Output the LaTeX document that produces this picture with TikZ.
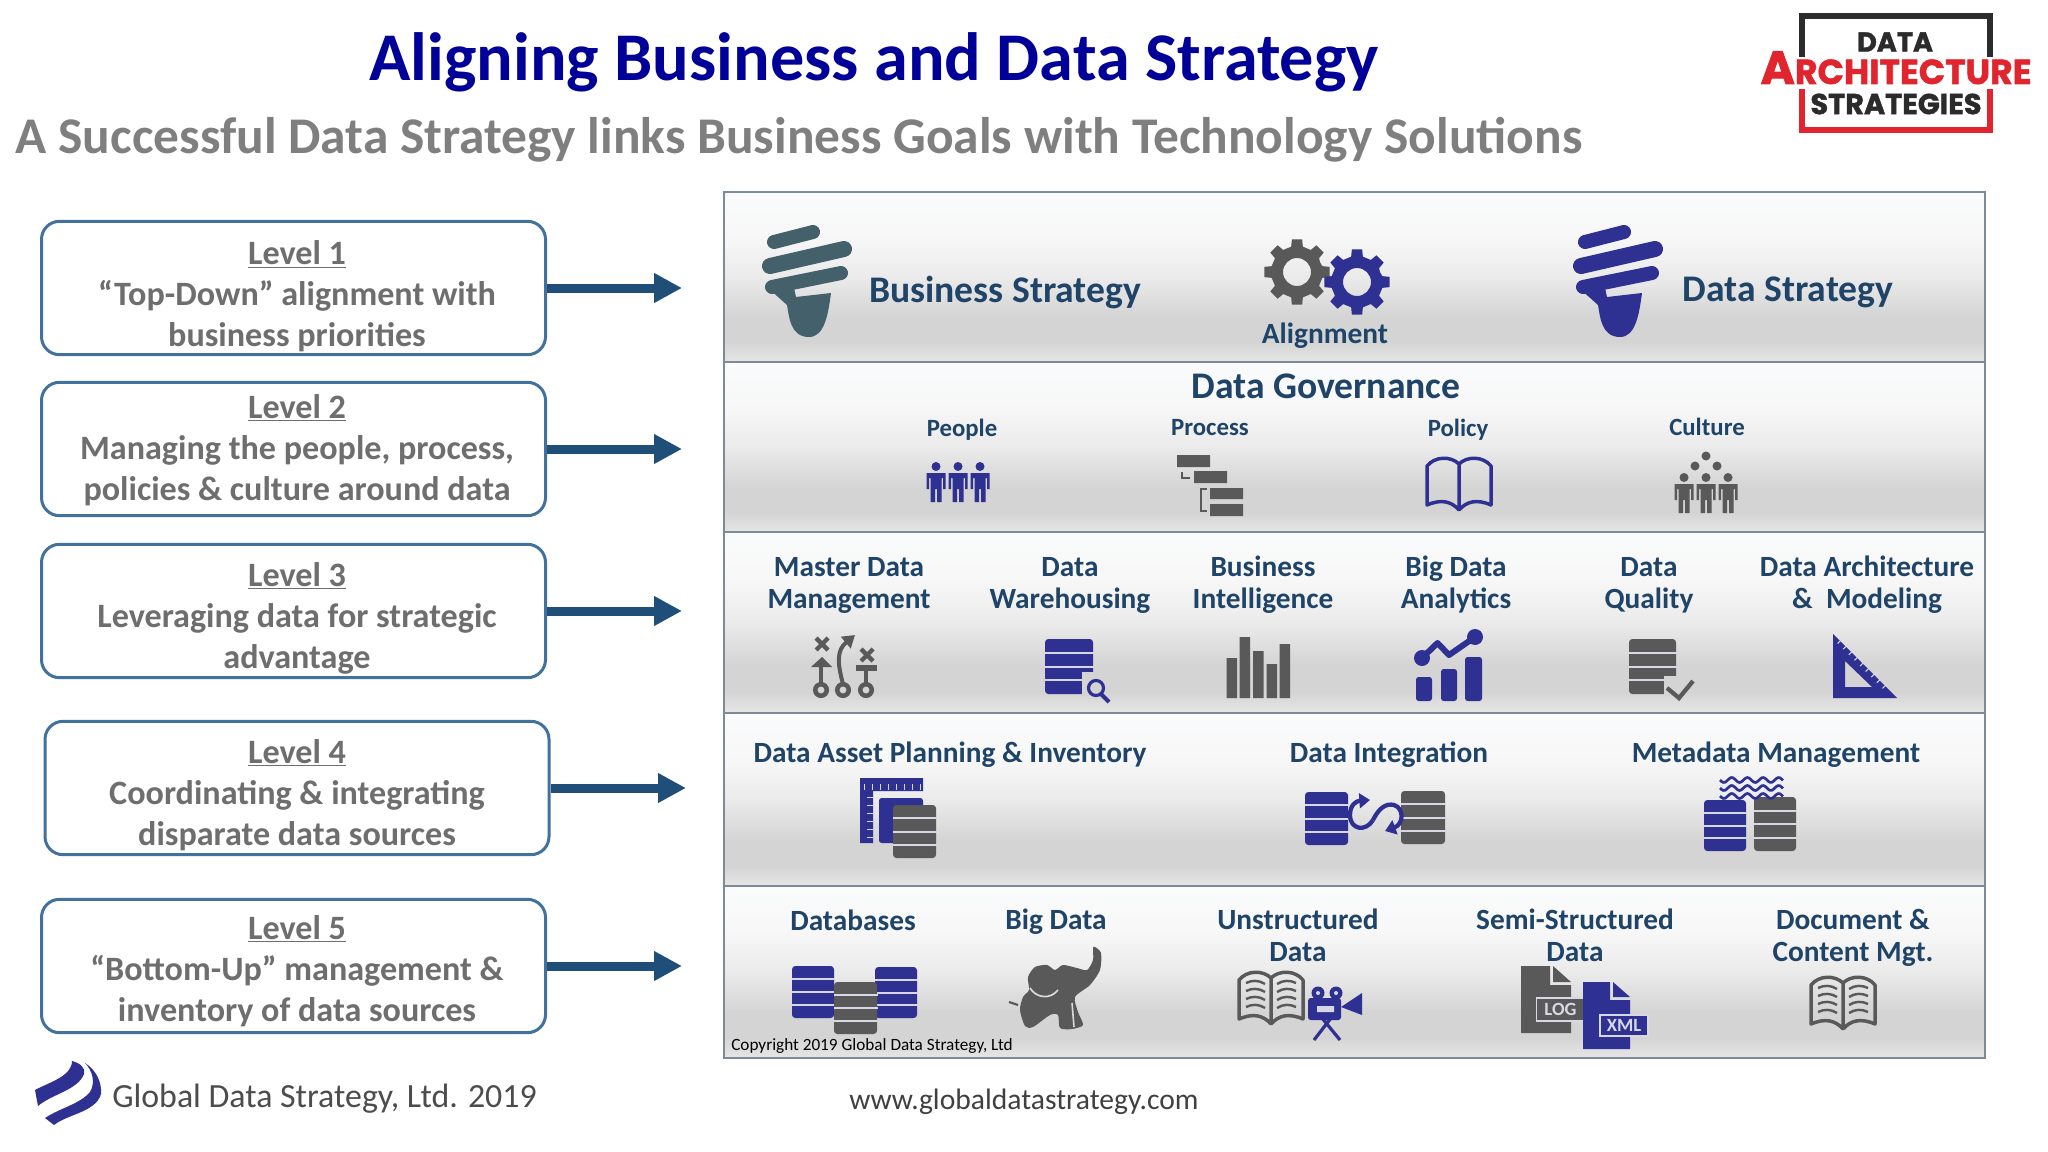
\documentclass[tikz,border=0pt]{standalone}
\usepackage{fontspec}
\setmainfont{Carlito}
\newfontfamily\logofont[BoldFeatures={FakeBold=1.5}]{Poppins}
\usetikzlibrary{arrows.meta}

\definecolor{titleblue}{HTML}{000099}
\definecolor{subgray}{HTML}{7F7F7F}
\definecolor{boxline}{HTML}{41719C}
\definecolor{boxtext}{HTML}{6E6E6E}
\definecolor{arrowblue}{HTML}{1F4E79}
\definecolor{labelblue}{HTML}{1F4468}
\definecolor{bandline}{HTML}{7C8A9A}
\definecolor{iconblue}{HTML}{2E3192}
\definecolor{icongray}{HTML}{595959}
\definecolor{bulbslate}{HTML}{44606B}
\definecolor{gapshade}{HTML}{D8D8E4}
\definecolor{bandbottom}{HTML}{E6E6E6}
\definecolor{bandtop}{HTML}{FAFBFC}
\definecolor{logored}{HTML}{E0252F}
\definecolor{logoblack}{HTML}{2B2B2B}

\pgfdeclareverticalshading{bandshade}{100bp}{color(0bp)=(bandbottom); color(25bp)=(bandbottom); color(31bp)=(black!17); color(38bp)=(black!17); color(50bp)=(black!8); color(62bp)=(black!3); color(75bp)=(bandtop); color(100bp)=(bandtop)}

\tikzset{
  every pic/.style={yscale=-1},
  levelbox/.style={draw=boxline,line width=2.25pt,rounded corners=13.5pt,fill=white,minimum width=378pt,minimum height=100pt,inner sep=0pt},
  leveltext/.style={inner sep=0pt,align=center,text=boxtext,font=\fontsize{25.6}{30.75}\selectfont\bfseries},
  levelarrow/.style={draw=arrowblue,line width=6.75pt,-{Triangle[length=21pt,width=21pt]}},
  bandbox/.style={draw=bandline,line width=1.5pt,shade,shading=bandshade},
  lbl/.style={inner sep=0.75pt,align=center,text=labelblue,font=\fontsize{22}{24}\selectfont\bfseries},
  lblsmall/.style={lbl,font=\fontsize{18.6}{24}\selectfont\bfseries},
  lblbig/.style={lbl,font=\fontsize{28.2}{24}\selectfont\bfseries},
  pics/dbstack/.style n args={3}{code={
    \fill[#1,rounded corners=2.5pt] (0,0) rectangle (#2,#3);
    \foreach \k in {1,2,3} \fill[gapshade] (-0.5,{\k*#3/4-1}) rectangle ({#2+0.5},{\k*#3/4+1});
  }},
  pics/bulb/.style={code={
    \draw[#1,line width=10.5pt,line cap=round] (12,16) -- (51,6);
    \draw[#1,line width=12pt,line cap=round] (8,40) -- (82,23);
    \draw[#1,line width=10.5pt,line cap=round] (10,61) -- (79,47);
    \fill[#1] (6,62) -- (25,79) .. controls (27,90) and (28,111) .. (47,111) .. controls (62,111) and (66,90) .. (69,67) -- (34,71) -- (32,62) -- cycle;
  }},
  pics/gearicon/.style={code={
    \fill[#1,even odd rule] (-22.5:25) foreach \a in {0,45,...,315} { -- (\a-13:26) -- (\a-9:33) -- (\a+9:33) -- (\a+13:26) } -- cycle (0,0) circle (14);
  }},
  pics/person/.style={code={
    \fill[#1] (0,4.5) circle (4.5);
    \fill[#1] (-9.5,11) -- (9.5,11) -- (9.5,27) -- (7,27) -- (7,16) -- (5.5,16) -- (5.5,40) -- (1,40) -- (1,27) -- (-1,27) -- (-1,40) -- (-5.5,40) -- (-5.5,16) -- (-7,16) -- (-7,27) -- (-9.5,27) -- cycle;
  }},
  pics/bookicon/.style={code={
    \draw[#1,line width=2.6pt,line join=round] (0,8) .. controls (8,-2) and (24,-2) .. (32,6) .. controls (40,-2) and (56,-2) .. (64,8) -- (64,47) .. controls (50,41) and (40,43) .. (32,52) .. controls (24,43) and (14,41) .. (0,47) -- cycle (32,6) -- (32,50);
  }},
  pics/booklines/.style={code={
    \foreach \yy in {11,19,27,35} {
      \draw[#1,line width=1.8pt] (7,\yy) .. controls (13,\yy-3) and (20,\yy-3) .. (26,\yy+1);
      \draw[#1,line width=1.8pt] (57,\yy) .. controls (51,\yy-3) and (44,\yy-3) .. (38,\yy+1);
    }
  }}
}

\begin{document}
\begin{tikzpicture}[x=0.75pt,y=0.75pt,yscale=-1,xscale=1]
  \useasboundingbox (0,0) rectangle (2048,1152);

  % Text Node
  \draw (874,62) node (maintitle) [inner sep=0.75pt,text=titleblue,font=\fontsize{51.2}{54}\selectfont\bfseries] {Aligning Business and Data Strategy};
  % Text Node
  \draw (799,140) node (subtitle) [inner sep=0.75pt,text=subgray,font=\fontsize{38.6}{42}\selectfont\bfseries] {A Successful Data Strategy links Business Goals with Technology Solutions};

  %Shape: Logo
  \draw[logoblack,line width=5pt] (1802,57) -- (1802,16) -- (1990,16) -- (1990,57);
  \draw[logored,line width=5pt] (1802,89) -- (1802,130) -- (1990,130) -- (1990,89);
  % Text Node
  \draw (1895,42) node (logodata) [inner sep=0pt,text=logoblack,font=\logofont\bfseries\fontsize{20.4}{22}\selectfont] {DATA};
  \draw (1896,84) node (logoarch) [anchor=base,inner sep=0pt,text=logored,font=\logofont\bfseries\fontsize{26}{26}\selectfont] {{\fontsize{35}{26}\selectfont A}RCHITECTURE};
  \draw (1896,104) node (logostrat) [inner sep=0pt,text=logoblack,font=\logofont\bfseries\fontsize{21.6}{24}\selectfont] {STRATEGIES};

  % Level boxes
  \draw (293.5,288) node (lvlone) [levelbox] {};
  \draw (293.5,449) node (lvltwo) [levelbox] {};
  \draw (293.5,611) node (lvlthree) [levelbox] {};
  \draw (297,788) node (lvlfour) [levelbox] {};
  \draw (293.5,966) node (lvlfive) [levelbox] {};
  % Text Node
  \draw (297,296.5) node (txtone) [leveltext] {\underline{Level 1}\\“Top-Down” alignment with\\business priorities};
  \draw (297,450) node (txttwo) [leveltext] {\underline{Level 2}\\Managing the people, process,\\policies \& culture around data};
  \draw (297,618) node (txtthree) [leveltext] {\underline{Level 3}\\Leveraging data for strategic\\advantage};
  \draw (297,795) node (txtfour) [leveltext] {\underline{Level 4}\\Coordinating \& integrating\\disparate data sources};
  \draw (297,971) node (txtfive) [leveltext] {\underline{Level 5}\\“Bottom-Up” management \&\\inventory of data sources};

  \coordinate (tipone) at (682,288);
  \coordinate (tiptwo) at (682,449);
  \coordinate (tipthree) at (682,611);
  \coordinate (tipfour) at (686,788);
  \coordinate (tipfive) at (682,966);
  \draw[levelarrow] (lvlone.east) -- (tipone);
  \draw[levelarrow] (lvltwo.east) -- (tiptwo);
  \draw[levelarrow] (lvlthree.east) -- (tipthree);
  \draw[levelarrow] (lvlfour.east) -- (tipfour);
  \draw[levelarrow] (lvlfive.east) -- (tipfive);

  %Shape: Bands
  \path[bandbox] (724,192) rectangle (1985,362);
  \path[bandbox] (724,362) rectangle (1985,532);
  \path[bandbox] (724,532) rectangle (1985,713);
  \path[bandbox] (724,713) rectangle (1985,886);
  \path[bandbox] (724,886) rectangle (1985,1058);

  % Band 1
  \pic at (762,226) {bulb=bulbslate};
  \pic at (1573,226) {bulb=iconblue};
  \pic at (1297,272) {gearicon=icongray};
  \pic at (1357,282) {gearicon=iconblue};
  \draw (1005,292.6) node (bizstrat) [lblbig] {Business Strategy};
  \draw (1325,335.3) node (alignlbl) [lbl] {Alignment};
  \draw (1788,292.6) node (datastrat) [lblbig] {Data Strategy};

  % Band 2
  \draw (1326,386) node (govlbl) [lblbig] {Data Governance};
  \draw (962,429.3) node (peoplelbl) [lblsmall] {People};
  \draw (1210,428) node (processlbl) [lblsmall] {Process};
  \draw (1458,429.3) node (policylbl) [lblsmall] {Policy};
  \draw (1707,427) node (culturelbl) [lblsmall] {Culture};
  \foreach \px in {936,958,980} \pic at (\px,462) {person=iconblue};
  \fill[icongray] (1177,455) rectangle (1210,467) (1194,471) rectangle (1227,483) (1210,488) rectangle (1243,499) (1210,504) rectangle (1243,516);
  \draw[icongray,line width=1.8pt] (1182,472) -- (1182,478) -- (1190,478) (1207,489) -- (1201,489) -- (1201,511) -- (1207,511);
  \pic at (1427,458) {bookicon=iconblue};
  \foreach \px in {1684,1706,1728} \pic at (\px,473) {person=icongray};
  \fill[icongray] (1706,456) circle (4.5) (1695,466) circle (4.5) (1717,466) circle (4.5);

  % Band 3
  \draw (849,585.6) node (mdmlbl) [lbl] {Master Data\\Management};
  \draw (1070,585.6) node (dwlbl) [lbl] {Data\\Warehousing};
  \draw (1263,584.3) node (bilbl) [lbl] {Business\\Intelligence};
  \draw (1456,584.3) node (biglbl) [lbl] {Big Data\\Analytics};
  \draw (1649,585.6) node (dqlbl) [lbl] {Data\\Quality};
  \draw (1867,584.3) node (archlbl) [lbl] {Data Architecture\\\&~~Modeling};

  %Shape: Playbook
  \foreach \px in {821,843,866} \draw[icongray,line width=3.4pt] (\px,690) circle (5.75);
  \draw[icongray,line width=3pt] (821,684) -- (821,666);
  \fill[icongray] (822,657) -- (832,667) -- (811,667) -- cycle;
  \draw[icongray,line width=3.2pt] (816,638) -- (828,650) (828,638) -- (816,650);
  \draw[icongray,line width=3pt,-{Triangle[length=9pt,width=11pt]}] (843,684) .. controls (837,662) and (837,650) .. (855,635);
  \draw[icongray,line width=3pt] (866,684) -- (866,670);
  \draw[icongray,line width=3.8pt] (856,668) -- (877,668);
  \draw[icongray,line width=3.2pt] (861,649) -- (873,661) (873,649) -- (861,661);

  %Shape: Warehouse
  \pic at (1045,639) {dbstack={iconblue}{48}{55}};
  \fill[black!17] (1082,672) rectangle (1094,696);
  \draw[iconblue,line width=2.4pt] (1096,688) circle (7.5);
  \draw[iconblue,line width=3pt] (1101,694) -- (1109,702);

  %Shape: Bars
  \fill[icongray] (1226.5,658) rectangle +(10.5,40) (1239.5,637) rectangle +(10.5,61) (1253,651) rectangle +(10.5,47) (1266.5,664) rectangle +(10.5,34) (1279.5,644) rectangle +(10.5,54);

  %Shape: Analytics
  \draw[iconblue,line width=4.5pt,line join=round] (1422,658) -- (1437.5,643) -- (1449,655) -- (1475,637);
  \fill[iconblue] (1422,658) circle (8) (1475,637) circle (8);
  \fill[iconblue,rounded corners=2pt] (1416,677) rectangle (1432,701) (1441,669) rectangle (1457,701) (1465,657) rectangle (1482,701);

  %Shape: Quality
  \pic at (1629,639) {dbstack={icongray}{47}{55}};
  \fill[black!17] (1664,676) rectangle (1677,696);
  \draw[icongray,line width=3.2pt] (1667,688) -- (1679,698) -- (1693,681);

  %Shape: Set square
  \fill[iconblue,even odd rule] (1833,634) -- (1833,698) -- (1897,698) -- cycle (1845,661) -- (1845,687) -- (1872,687) -- cycle;
  \foreach \i in {1,...,9} \draw[gapshade,line width=0.8pt] ({1835+\i*5.6},{635+\i*5.6}) -- ++(-3,3);

  % Band 4
  \draw (950,754.6) node (assetlbl) [lbl] {Data Asset Planning \& Inventory};
  \draw (1389,754.6) node (integlbl) [lbl] {Data Integration};
  \draw (1776,754.6) node (metalbl) [lbl] {Metadata Management};

  %Shape: Planning
  \fill[iconblue] (860,778) rectangle (923,791) (860,791) rectangle (873,843);
  \foreach \i in {0,...,7} \draw[gapshade,line width=0.7pt] ({864+\i*8},784) -- ({864+\i*8},790);
  \foreach \i in {0,...,5} \draw[gapshade,line width=0.7pt] (867,{797+\i*8}) -- (873,{797+\i*8});
  \fill[iconblue,rounded corners=2pt] (879,798) rectangle (923,843);
  \pic at (893,805) {dbstack={icongray}{43}{53}};

  %Shape: Integration
  \pic at (1305,792) {dbstack={iconblue}{43}{53}};
  \pic at (1401,791) {dbstack={icongray}{44}{53}};
  \draw[iconblue,line width=3.2pt,-{Triangle[length=8pt,width=11pt]}] (1373,820) .. controls (1366,832) and (1350,830) .. (1350,815) .. controls (1350,805) and (1356,801) .. (1370,800);
  \draw[iconblue,line width=3.2pt,-{Triangle[length=8pt,width=11pt]}] (1373,820) .. controls (1379,808) and (1386,803) .. (1394,805) .. controls (1404,808) and (1404,824) .. (1385,831);

  %Shape: Metadata
  \pic at (1704,800) {dbstack={iconblue}{42}{51}};
  \pic at (1754,797) {dbstack={icongray}{42}{54}};
  \foreach \wy in {780,788,796} \draw[iconblue,line width=2pt] plot[domain=0:63,samples=40] ({1720+\x},{\wy+2.5*sin(\x*23)});

  % Band 5
  \draw (853,920.3) node (dblbl) [lbl] {Databases};
  \draw (1056,921.6) node (bigdatalbl) [lbl] {Big Data};
  \draw (1298,935) node (unstructlbl) [lbl] {Unstructured\\Data};
  \draw (1575,935) node (semilbl) [lbl] {Semi-Structured\\Data};
  \draw (1853,937.6) node (doclbl) [lbl] {Document \&\\Content Mgt.};
  \draw (731,1046) node (copylbl) [anchor=west,inner sep=0pt,text=black,font=\fontsize{12.9}{14}\selectfont] {Copyright 2019 Global Data Strategy, Ltd};

  %Shape: Databases
  \pic at (792,966) {dbstack={iconblue}{42}{52}};
  \pic at (875,967) {dbstack={iconblue}{42}{51}};
  \pic at (834,982) {dbstack={icongray}{43}{52}};

  %Shape: Elephant
  \fill[icongray] plot[smooth cycle,tension=0.45] coordinates {(1095,947) (1101,953) (1100,970) (1090,985) (1075,997) (1078,1012) (1083,1025) (1072,1029) (1060,1028) (1058,1015) (1050,1015) (1033,1027) (1025,1026) (1020,1010) (1023,997) (1029,990) (1028,977) (1035,967) (1047,965) (1055,970) (1063,965) (1077,968) (1087,970) (1093,960) (1093,948)};
  \draw[black!15,line width=1.3pt] (1030,988) .. controls (1036,998) and (1050,1000) .. (1058,990);
  \draw[black!15,line width=1.2pt] (1072,1003) -- (1074,1027);
  \draw[icongray,line width=1.6pt] (1009,1002) -- (1018,1005);

  %Shape: Book and camera
  \pic at (1239,972) {bookicon=icongray};
  \pic at (1239,972) {booklines=icongray};
  \fill[iconblue] (1318,993) circle (6.5) (1336,993) circle (6.5);
  \fill[iconblue,rounded corners=2pt] (1308,998) rectangle (1341,1020);
  \fill[iconblue] (1341,1007) -- (1362,993) -- (1362,1015) -- cycle;
  \fill[gapshade] (1317,1006) rectangle (1334,1012) (1318,993) circle (2) (1336,993) circle (2);
  \draw[iconblue,line width=2.4pt] (1314,1040) -- (1331,1018) (1340,1040) -- (1322,1018);

  %Shape: Files
  \fill[icongray] (1521,966) -- (1550,966) -- (1550,985) -- (1571,985) -- (1571,1033) -- (1521,1033) -- cycle (1553,966) -- (1571,982) -- (1553,982) -- cycle;
  \draw (1560.5,1009.5) node (loglbl) [draw=gapshade,line width=1.1pt,fill=icongray,text=gapshade,minimum width=36pt,minimum height=17pt,inner sep=0pt,font=\fontsize{14}{14}\selectfont\bfseries] {LOG};
  \fill[iconblue] (1583,982) -- (1610,982) -- (1610,1000) -- (1630,1000) -- (1630,1049) -- (1583,1049) -- cycle (1613,982) -- (1630,997) -- (1613,997) -- cycle;
  \draw (1624,1025.5) node (xmllbl) [draw=gapshade,line width=1.1pt,fill=iconblue,text=gapshade,minimum width=36pt,minimum height=15.5pt,inner sep=0pt,font=\fontsize{14}{14}\selectfont\bfseries] {XML};

  %Shape: Book
  \pic at (1811,977) {bookicon=icongray};
  \pic at (1811,977) {booklines=icongray};

  %Shape: Global logo
  \fill[iconblue] (35,1090) .. controls (50,1082) and (72,1076) .. (72,1061) .. controls (80,1063) and (86,1068) .. (84,1074) .. controls (78,1090) and (52,1094) .. (38,1106) -- cycle;
  \fill[iconblue] (85,1063) .. controls (96,1070) and (102,1082) .. (101,1094) .. controls (96,1112) and (68,1114) .. (54,1125) -- (45,1118) .. controls (60,1108) and (80,1104) .. (90,1092) .. controls (96,1082) and (92,1070) .. (85,1063) -- cycle;
  % Text Node
  \draw (112,1099) node (footname) [anchor=west,inner sep=0pt,text=black!70,font=\fontsize{25.4}{27}\selectfont] {Global Data Strategy, Ltd. 2019};
  \draw (1024,1102) node (footurl) [inner sep=0pt,text=black!75,font=\fontsize{22.2}{24}\selectfont] {www.globaldatastrategy.com};

\end{tikzpicture}
\end{document}
